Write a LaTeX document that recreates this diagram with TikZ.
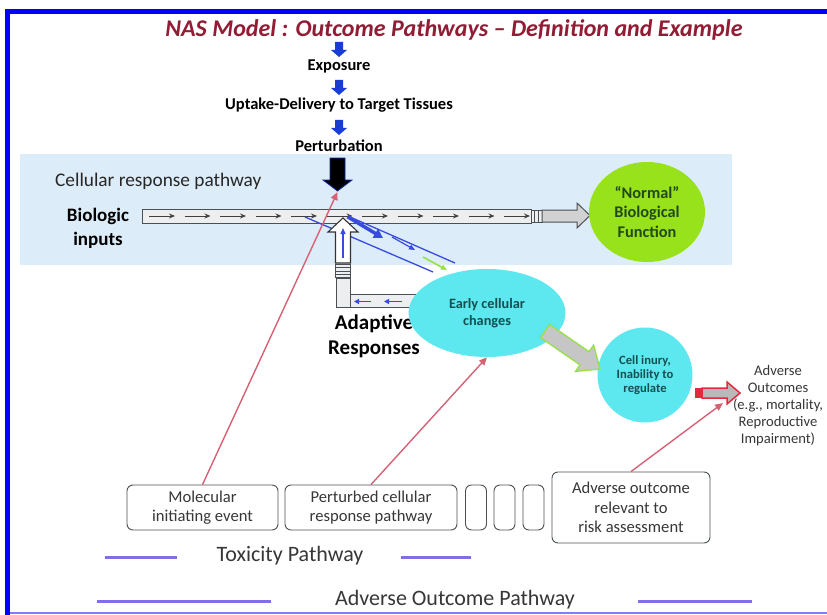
\documentclass[tikz,border=0pt]{standalone}
\usepackage{fontspec}
\setmainfont{Carlito}
\usetikzlibrary{arrows.meta,shapes.geometric}

\definecolor{frameblue}{RGB}{0,0,250}
\definecolor{framelight}{RGB}{125,125,255}
\definecolor{titlered}{RGB}{145,28,52}
\definecolor{dropblue}{RGB}{25,60,215}
\definecolor{bandblue}{RGB}{221,236,249}
\definecolor{flowblue}{RGB}{55,75,225}
\definecolor{pipegray}{RGB}{236,238,240}
\definecolor{edgegray}{RGB}{75,80,85}
\definecolor{leafgreen}{RGB}{152,226,28}
\definecolor{darkgreen}{RGB}{35,72,30}
\definecolor{cyanfill}{RGB}{92,232,238}
\definecolor{tealtext}{RGB}{18,80,82}
\definecolor{linkred}{RGB}{214,98,116}
\definecolor{alertred}{RGB}{232,40,62}
\definecolor{softgreen}{RGB}{150,225,70}
\definecolor{pathviolet}{RGB}{128,112,228}
\definecolor{textgray}{RGB}{55,55,55}
\definecolor{navyedge}{RGB}{20,40,160}

\newcommand{\ptsize}[2]{\fontsize{#1}{#2}\selectfont}

\tikzset{
  headline/.style={font=\bfseries\itshape\ptsize{24}{28}, text=titlered, inner sep=0},
  steplabel/.style={font=\bfseries\ptsize{16.5}{19}, inner sep=0},
  droparrow/.pic={\fill[dropblue] (-4,0) -- (4,0) -- (4,8) -- (8,8) -- (0,15) -- (-8,8) -- (-4,8) -- cycle;},
  stagebox/.style={draw=edgegray, line width=0.9, rounded corners=6, fill=white,
    text=textgray, font=\ptsize{16.6}{19.5}, align=center, inner sep=0},
  link/.style={linkred, line width=1.4, -{Triangle[length=8,width=7]}},
  cyanblob/.style={ellipse, fill=cyanfill, inner sep=0, text=tealtext, align=center},
  pipepart/.style={fill=pipegray, draw=edgegray, line width=1},
  flowline/.style={flowblue, line width=1.3},
  pathrule/.style={pathviolet, line width=3},
  pathname/.style={font=\ptsize{22}{26}, text=textgray, inner sep=0},
}

\begin{document}
\begin{tikzpicture}[x=1pt,y=-1pt]
\useasboundingbox (0,0) rectangle (827,615);
\fill[white] (0,0) rectangle (827,615);

% frame
\fill[frameblue] (5,9) rectangle (827,14);
\fill[frameblue] (5,9) rectangle (10,615);
\draw[framelight, line width=1.5] (10,613) -- (827,613);

% cellular response band
\fill[bandblue] (20,154) rectangle (732,265);

% title and exposure chain
\node[headline] (title) at (454,30) {NAS Model : Outcome Pathways – Definition and Example};
\pic at (339,42) {droparrow};
\node[steplabel] (exposure) at (339,66) {Exposure};
\pic at (339,80) {droparrow};
\node[steplabel] (uptake) at (339,105) {Uptake-Delivery to Target Tissues};
\pic at (339,120) {droparrow};
\node[steplabel] (perturb) at (339,146) {Perturbation};

% perturbation hit
\filldraw[fill=black, draw=navyedge, line width=0.8]
  (330,158) -- (345,158) -- (345,180) -- (352,180) -- (337.5,191) -- (323,180) -- (330,180) -- cycle;
\coordinate (hit) at (337.5,192);

\node[font=\ptsize{19.3}{22}, text=textgray!70!black, anchor=west, inner sep=0] (crp) at (55,181) {Cellular response pathway};
\node[font=\bfseries\ptsize{19}{24}, align=center, inner sep=0] (inputs) at (98,228) {Biologic\\inputs};

% main pathway pipe
\filldraw[pipepart] (142,209) rectangle (531,223);
\foreach \i in {0,...,10}
  \draw[-{Stealth[length=6,width=5]}, black!75, line width=0.9] ({149+35.5*\i},216) -- ++(26,0);
\filldraw[pipepart] (531,210) rectangle (542,222);
\draw[edgegray, line width=0.9] (534.5,210) -- (534.5,222) (538,210) -- (538,222);
\filldraw[fill=gray!35, draw=edgegray, line width=1]
  (542,210) -- (577,210) -- (577,203) -- (590,215.5) -- (577,228) -- (577,222) -- (542,222) -- cycle;

\node[ellipse, fill=leafgreen, minimum width=116, minimum height=100, inner sep=0,
  text=darkgreen, font=\bfseries\ptsize{16.3}{19.5}, align=center] (normal) at (647,212)
  {“Normal”\\Biological\\Function};

% diverted flow towards early changes
\draw[flowline] (305,217) -- (433,272);
\draw[flowline] (350,217) -- (455,263);
\draw[flowblue, line width=3.5, -{Triangle[length=9,width=10]}] (348,217) -- (383,238);
\draw[flowblue, line width=1.2, -{Triangle[length=6,width=5]}] (392,237) -- (415,250);
\draw[softgreen, line width=1.6, -{Triangle[length=6,width=5]}] (423,257) -- (447,270);

% adaptive response return pipe
\filldraw[pipepart] (350,294) rectangle (418,307);
\filldraw[pipepart] (336,278) rectangle (350,307);
\filldraw[pipepart] (335,264) rectangle (350,277);
\draw[edgegray, line width=0.8] (335,267.5) -- (350,267.5) (335,271) -- (350,271) (335,274) -- (350,274);
\filldraw[fill=white, draw=black!80, line width=1.1]
  (343,218) -- (358,232) -- (350.5,232) -- (350.5,263) -- (335.5,263) -- (335.5,232) -- (328,232) -- cycle;
\draw[flowblue, line width=1.3, -{Triangle[length=6,width=5]}] (343,258) -- (343,228);
\draw[flowblue, line width=1.3, -{Triangle[length=5,width=5]}] (371,301.5) -- (354,301.5);
\draw[flowblue, line width=1.3, -{Triangle[length=5,width=5]}] (402,301.5) -- (384,301.5);
\node[font=\bfseries\ptsize{21}{25}, align=center, inner sep=0] (adaptive) at (374,336) {Adaptive\\Responses};

% early changes and injury
\node[cyanblob, minimum width=157, minimum height=88, font=\bfseries\ptsize{14.3}{17.5}] (early) at (487,313) {Early cellular\\changes};
\node[cyanblob, minimum width=95, minimum height=95, font=\bfseries\ptsize{12.6}{14}] (injury) at (645,375) {Cell inury,\\Inability to\\regulate};
\begin{scope}[shift={(545,331)}, rotate=-34.6]
  \filldraw[fill=gray!45, draw=softgreen, line width=1.3]
    (0,-8) -- (48,-8) -- (48,-16) -- (67,0) -- (48,16) -- (48,8) -- (0,8) -- cycle;
\end{scope}

% adverse outcome
\fill[alertred] (695,388) rectangle (702,398);
\filldraw[fill=gray!55, draw=alertred, line width=1.5]
  (702,388) -- (727,388) -- (727,382) -- (740,393) -- (727,404) -- (727,398) -- (702,398) -- cycle;
\coordinate (outcomehit) at (723,403);
\node[font=\ptsize{14.6}{17}, text=textgray, align=center, inner sep=0] (outcomes) at (778,406)
  {Adverse\\Outcomes\\(e.g., mortality,\\Reproductive\\Impairment)};

% pathway stages
\node[stagebox, minimum width=151, minimum height=45] (mie) at (202.5,507.5) {Molecular\\initiating event};
\node[stagebox, minimum width=172, minimum height=45] (pcrp) at (371,507.5) {Perturbed cellular\\response pathway};
\node[stagebox, minimum width=21, minimum height=45] (gapa) at (476,507.5) {};
\node[stagebox, minimum width=21, minimum height=45] (gapb) at (504.5,507.5) {};
\node[stagebox, minimum width=21, minimum height=45] (gapc) at (533.5,507.5) {};
\node[stagebox, minimum width=158, minimum height=71] (aorisk) at (631,507.5) {Adverse outcome\\relevant to\\risk assessment};

% links from stages to events
\draw[link] (mie.north) -- (hit);
\draw[link] (pcrp.north) -- (early.south);
\draw[link] (aorisk.north) -- (outcomehit);

% pathway spans
\node[pathname] (tox) at (290,556) {Toxicity Pathway};
\draw[pathrule] (105,557) -- (177,557);
\draw[pathrule] (401,557) -- (471,557);
\node[pathname] (aop) at (455,600) {Adverse Outcome Pathway};
\draw[pathrule] (97,601) -- (271,601);
\draw[pathrule] (638,601) -- (752,601);
\end{tikzpicture}
\end{document}
